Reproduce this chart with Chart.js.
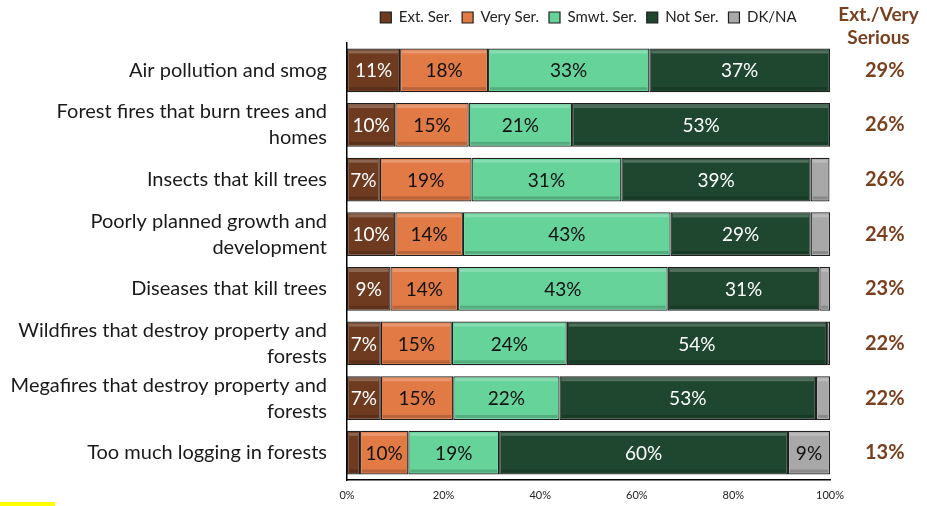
<!DOCTYPE html>
<html>
<head>
<meta charset="utf-8">
<script src="https://cdn.jsdelivr.net/npm/chart.js@4.4.1/dist/chart.umd.min.js"></script>
<style>
  html, body { margin: 0; padding: 0; background: #fff; }
  #wrap { position: relative; width: 927px; height: 506px; }
  #marker { position: absolute; left: 0; top: 502px; width: 55px; height: 4px; background: #ffff00; }
</style>
</head>
<body>
<div id="wrap">
  <canvas id="chart" width="927" height="506"></canvas>
  <div id="marker"></div>
</div>
<script>
// chart data
const categories = [
    "Air pollution and smog",
    ["Forest fires that burn trees and", "homes"],
    "Insects that kill trees",
    ["Poorly planned growth and", "development"],
    "Diseases that kill trees",
    ["Wildfires that destroy property and", "forests"],
    ["Megafires that destroy property and", "forests"],
    "Too much logging in forests"
];
const extSer  = [11, 10, 6.8, 10, 9, 7, 7, 2.7];
const verySer = [18.2, 15.2, 19, 14, 14, 14.7, 15, 10];
const smwtSer = [33.4, 21.4, 31, 43, 43.4, 23.8, 22, 18.8];
const notSer  = [37.4, 53.4, 39.2, 29, 31.4, 53.9, 53.1, 59.8];
const dkna    = [0, 0, 3.9, 4, 2.2, 0.6, 2.9, 8.7];
const extVeryTotals = ["29%", "26%", "26%", "24%", "23%", "22%", "22%", "13%"];
const xTicks = [0, 20, 40, 60, 80, 100];

const FONT = "Lato, 'Noto Sans', sans-serif";
const BROWN_TXT = "#7a3f1d";

// draws the % inside each bar segment
const barLabels = {
    id: "barLabels",
    afterDatasetsDraw(chart) {
        const ctx = chart.ctx;
        ctx.save();
        ctx.font = "19px " + FONT;
        ctx.textAlign = "center";
        ctx.textBaseline = "middle";
        chart.data.datasets.forEach((ds, i) => {
            const meta = chart.getDatasetMeta(i);
            meta.data.forEach((bar, j) => {
                const v = ds.data[j];
                const w = Math.abs(bar.x - bar.base);
                // simple bevel: light top edge, darker bottom edge
                if (w > 2) {
                    const top = bar.y - bar.height / 2, bot = bar.y + bar.height / 2;
                    const l = Math.min(bar.x, bar.base), r = Math.max(bar.x, bar.base);
                    ctx.fillStyle = "rgba(255,255,255,0.22)";
                    ctx.fillRect(l + 2, top + 2, r - l - 4, 3);
                    ctx.fillStyle = "rgba(0,0,0,0.18)";
                    ctx.fillRect(l + 2, bot - 5, r - l - 4, 3);
                }
                if (v < 5) return;
                ctx.fillStyle = ds.labelColor;
                ctx.fillText(Math.round(v) + "%", (bar.x + bar.base) / 2, bar.y + 1);
            });
        });
        ctx.restore();
    }
};

// header over the right-hand totals column
const totalsHeader = {
    id: "totalsHeader",
    afterDraw(chart) {
        const ax = chart.scales.yRight;
        const ctx = chart.ctx;
        const cx = (ax.left + ax.right) / 2;
        ctx.save();
        ctx.font = "bold 19px " + FONT;
        ctx.fillStyle = BROWN_TXT;
        ctx.textAlign = "center";
        ctx.textBaseline = "middle";
        ctx.fillText("Ext./Very", cx, 15);
        ctx.fillText("Serious", cx, 38);
        ctx.restore();
    }
};

// keep the legend box a fixed height so the plot starts where it should
const legendHeight = {
    id: "legendHeight",
    beforeLayout(chart) {
        const lg = chart.legend;
        if (!lg || lg._fixed) return;
        const fit = lg.fit;
        lg.fit = function () { fit.call(this); this.height = 43; };
        lg._fixed = true;
    }
};

function noEdgePadding(ax) {
    ax.paddingTop = 0;
    ax.paddingBottom = 0;
}

function makeSet(label, data, color, labelColor) {
    return {
        label: label,
        data: data,
        backgroundColor: color,
        borderColor: "#1f1f1f",
        borderWidth: 1.2,
        borderSkipped: false,
        labelColor: labelColor,
        categoryPercentage: 1,
        barPercentage: 0.8
    };
}

new Chart(document.getElementById("chart"), {
    type: "bar",
    data: {
        labels: categories,
        datasets: [
            makeSet("Ext. Ser.", extSer, "#6e3b20", "#ffffff"),
            makeSet("Very Ser.", verySer, "#e27a46", "#111111"),
            makeSet("Smwt. Ser.", smwtSer, "#66d39b", "#111111"),
            makeSet("Not Ser.", notSer, "#1f4730", "#ffffff"),
            makeSet("DK/NA", dkna, "#a8a8a8", "#111111")
        ]
    },
    options: {
        indexAxis: "y",
        responsive: false,
        animation: false,
        layout: { padding: 0 },
        plugins: {
            legend: {
                position: "top",
                fullSize: false,
                labels: {
                    boxWidth: 11,
                    boxHeight: 11,
                    padding: 10,
                    color: "#222",
                    font: { family: FONT, size: 15 }
                }
            },
            tooltip: { enabled: false }
        },
        scales: {
            x: {
                stacked: true,
                min: 0,
                max: 100,
                afterBuildTicks(ax) { ax.ticks = xTicks.map(v => ({ value: v })); },
                afterFit(ax) { ax.height = 26; },
                grid: { display: false, drawTicks: true, tickLength: 5, tickColor: "#000" },
                border: { color: "#000", width: 1.5 },
                ticks: {
                    color: "#222",
                    font: { family: FONT, size: 11 },
                    padding: 4,
                    callback: v => v + "%"
                }
            },
            y: {
                stacked: true,
                afterFit(ax) { ax.width = 347; noEdgePadding(ax); },
                grid: { display: false },
                border: { color: "#000", width: 1.5 },
                ticks: {
                    autoSkip: false,
                    color: "#1a1a1a",
                    padding: 12,
                    font: { family: FONT, size: 20, lineHeight: 1.3 }
                }
            },
            yRight: {
                type: "category",
                position: "right",
                labels: extVeryTotals,
                offset: true,
                afterFit(ax) { ax.width = 97; noEdgePadding(ax); },
                grid: { display: false, drawTicks: false },
                border: { display: false },
                ticks: {
                    autoSkip: false,
                    color: BROWN_TXT,
                    crossAlign: "center",
                    padding: 35,
                    font: { family: FONT, size: 20, weight: "bold" }
                }
            }
        }
    },
    plugins: [barLabels, totalsHeader, legendHeight]
});
</script>
</body>
</html>
